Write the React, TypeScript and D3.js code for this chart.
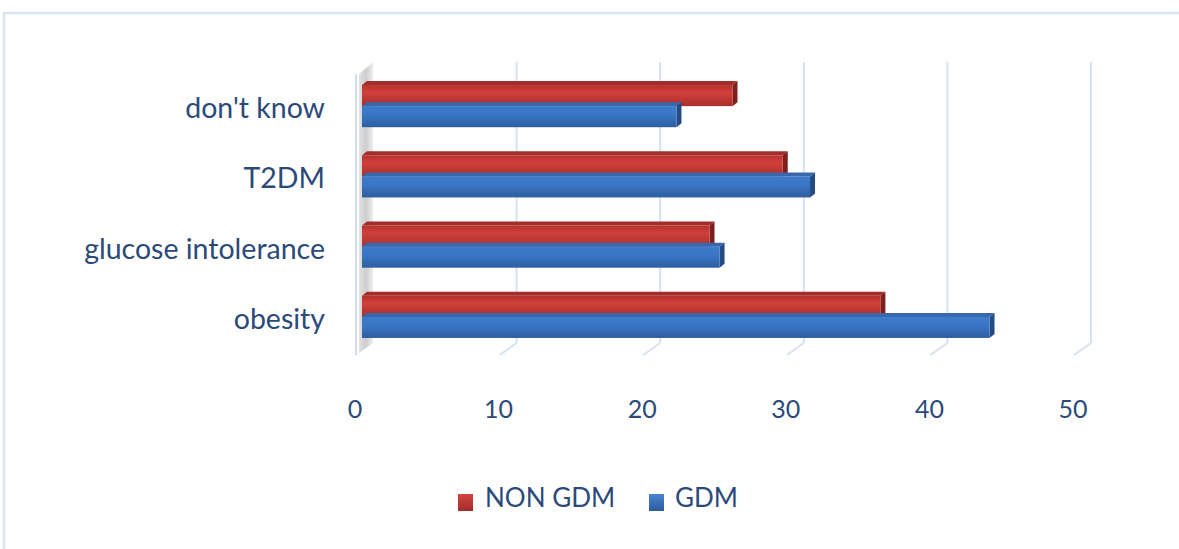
import React from "react";
import * as d3 from "d3";

const categories = ["don't know", "T2DM", "glucose intolerance", "obesity"];
const seriesNames = ["NON GDM", "GDM"];
const nonGdm = [25.8, 29.3, 24.2, 36.1];
const gdm = [21.9, 31.2, 24.9, 43.7];
const xTicks = [0, 10, 20, 30, 40, 50];

const W = 1179;
const H = 549;
const TEXT = "#2B4A7A";
const FONT = "Lato, 'Liberation Sans', sans-serif";

// 3D geometry of the plot box
const DX = 17; // front -> back horizontal shift
const DY = -12; // front -> back vertical shift
const BAR_OX = 6; // bar front face offset from plot front plane
const BAR_OY = -3;
const BAR_DX = 5; // bar thickness (depth)
const BAR_DY = -4;

export default function App() {
  const x = d3.scaleLinear().domain([0, 50]).range([356, 1074]);
  const y = d3
    .scaleBand<string>()
    .domain(categories)
    .range([74, 355])
    .paddingInner(0.4)
    .paddingOuter(0.2);
  const bw = y.bandwidth() / 2;
  const front = { top: 74, bottom: 355 };

  const series = [
    { name: seriesNames[0], values: nonGdm, grad: "redFace", top: "#A32D2A", cap: "#7E1F1D", sq: "redSq" },
    { name: seriesNames[1], values: gdm, grad: "blueFace", top: "#3868AC", cap: "#244C82", sq: "blueSq" },
  ];

  const bars: React.ReactElement[] = [];
  categories.forEach((c, ci) => {
    series.forEach((s, si) => {
      const v = s.values[ci];
      const x0 = x(0) + BAR_OX;
      const x1 = x(v) + BAR_OX;
      const y0 = (y(c) as number) + BAR_OY + si * bw;
      const y1 = y0 + bw;
      const key = `${ci}-${si}`;
      bars.push(
        <g key={key}>
          <polygon
            points={`${x0},${y0} ${x0 + BAR_DX},${y0 + BAR_DY} ${x1 + BAR_DX},${y0 + BAR_DY} ${x1},${y0}`}
            fill={s.top}
          />
          <polygon
            points={`${x1},${y0} ${x1 + BAR_DX},${y0 + BAR_DY} ${x1 + BAR_DX},${y1 + BAR_DY} ${x1},${y1}`}
            fill={s.cap}
          />
          <rect x={x0} y={y0} width={x1 - x0} height={bw} fill={`url(#${s.grad})`} />
        </g>
      );
    });
  });

  return (
    <svg
      width={W}
      height={H}
      style={{ position: "absolute", left: 0, top: 0, background: "#fff" }}
      fontFamily={FONT}
    >
      <defs>
        <linearGradient id="redFace" x1="0" y1="0" x2="0" y2="1">
          <stop offset="0" stopColor="#B5312D" />
          <stop offset="0.35" stopColor="#D1403B" />
          <stop offset="1" stopColor="#A92E2B" />
        </linearGradient>
        <linearGradient id="blueFace" x1="0" y1="0" x2="0" y2="1">
          <stop offset="0" stopColor="#3E7BCB" />
          <stop offset="0.4" stopColor="#3A76C6" />
          <stop offset="1" stopColor="#2D5E9F" />
        </linearGradient>
        <linearGradient id="wall" x1="0" y1="0" x2="1" y2="0">
          <stop offset="0" stopColor="#D6D6D6" />
          <stop offset="0.5" stopColor="#BDBDBD" />
          <stop offset="1" stopColor="#E8E8E8" />
        </linearGradient>
        <linearGradient id="redSq" x1="0" y1="0" x2="0" y2="1">
          <stop offset="0" stopColor="#D24540" />
          <stop offset="1" stopColor="#A52C29" />
        </linearGradient>
        <linearGradient id="blueSq" x1="0" y1="0" x2="0" y2="1">
          <stop offset="0" stopColor="#4A85D2" />
          <stop offset="1" stopColor="#2C5C9C" />
        </linearGradient>
      </defs>

      {/* chart border */}
      <path d={`M4,${H} L4,13 L${W},13`} fill="none" stroke="#DCE6F3" strokeWidth={2.5} />

      {/* back gridlines + floor ticks */}
      {xTicks.map((t) => (
        <g key={`g${t}`}>
          {t > 0 && (
            <line
              x1={x(t) + DX}
              x2={x(t) + DX}
              y1={front.top + DY}
              y2={front.bottom + DY}
              stroke="#D5E2F4"
              strokeWidth={2}
            />
          )}
          {t > 0 && (
            <line
              x1={x(t) + DX}
              x2={x(t)}
              y1={front.bottom + DY}
              y2={front.bottom}
              stroke="#D5E2F4"
              strokeWidth={2}
            />
          )}
        </g>
      ))}

      {/* left wall */}
      <polygon
        points={`${x(0) + 3},${front.bottom - 2} ${x(0) + 3},${front.top} ${x(0) + DX},${front.top + DY} ${x(0) + DX},${front.bottom + DY}`}
        fill="url(#wall)"
        opacity={0.75}
      />
      <line x1={x(0)} x2={x(0)} y1={front.top} y2={front.bottom} stroke="#CFDDF0" strokeWidth={2} />

      {bars}

      {/* category labels */}
      {categories.map((c) => (
        <text
          key={c}
          x={325}
          y={(y(c) as number) + y.bandwidth() / 2 + 9}
          textAnchor="end"
          fontSize={28.5}
          fill={TEXT}
        >
          {c}
        </text>
      ))}

      {/* x tick labels */}
      {xTicks.map((t) => (
        <text key={`t${t}`} x={x(t) - 1} y={418} textAnchor="middle" fontSize={25} fill={TEXT}>
          {t}
        </text>
      ))}

      {/* legend */}
      <rect x={458} y={494} width={15} height={17} fill="url(#redSq)" />
      <text x={485} y={507} fontSize={26} fill={TEXT}>
        {seriesNames[0]}
      </text>
      <rect x={649} y={494} width={15} height={17} fill="url(#blueSq)" />
      <text x={675} y={507} fontSize={26} fill={TEXT}>
        {seriesNames[1]}
      </text>
    </svg>
  );
}
